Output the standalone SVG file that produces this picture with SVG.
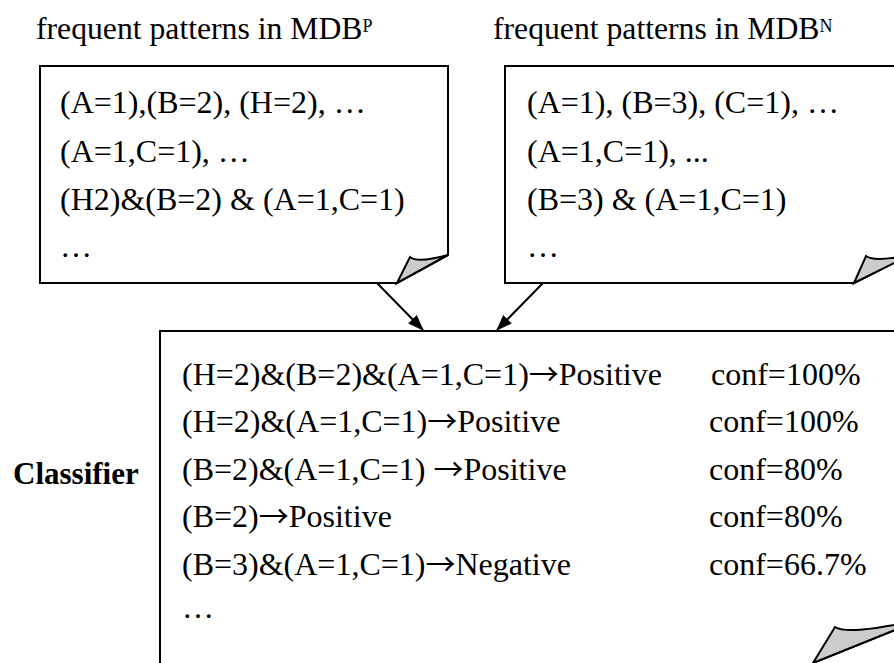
<svg xmlns="http://www.w3.org/2000/svg" width="894" height="663" viewBox="0 0 894 663">
<style>
text{font-family:"Liberation Serif","Times New Roman",Times,serif;font-size:32px;fill:#000}
.t{font-size:31.7px}
.sup{font-size:18px}
.b{font-weight:bold;font-size:31px}
.ar{font-family:"Noto Sans CJK SC","Noto Sans CJK JP",sans-serif;font-size:30px}
.box{fill:#fff;stroke:#000;stroke-width:2}
.curl{fill:#ccc;stroke:#000;stroke-width:2;stroke-linejoin:miter}
.conn{stroke:#000;stroke-width:2;fill:none}
</style>
<defs>
<marker id="ah" markerWidth="16" markerHeight="12" refX="15" refY="6" orient="auto" markerUnits="userSpaceOnUse" viewBox="0 0 16 12">
<path d="M0,0 L16,6 L0,12 Z" fill="#000"/>
</marker>
</defs>
<rect width="894" height="663" fill="#fff"/>

<g id="titles">
<text class="t" x="36" y="39">frequent patterns in MDB<tspan class="sup" dy="-7">P</tspan></text>
<text class="t" x="493" y="39">frequent patterns in MDB<tspan class="sup" dy="-7">N</tspan></text>
</g>

<g id="mdbp">
<path class="box" d="M40,66 H448 V255 L397,283 H40 Z"/>
<path class="curl" d="M397,283 L410,257 C416,262 430,260 448,255 Z"/>
<text x="60" y="113">(A=1),(B=2), (H=2), …</text>
<text x="60" y="162">(A=1,C=1), …</text>
<text x="60" y="210">(H2)&amp;(B=2) &amp; (A=1,C=1)</text>
<text x="60" y="257">…</text>
</g>

<g id="mdbn">
<path class="box" d="M505,66 H910 V255 L854,283 H505 Z"/>
<path class="curl" d="M854,283 L866,256 C872,261 890,259 910,255 Z"/>
<text x="527" y="113">(A=1), (B=3), (C=1), …</text>
<text x="527" y="162">(A=1,C=1), ...</text>
<text x="527" y="210">(B=3) &amp; (A=1,C=1)</text>
<text x="527" y="257">…</text>
</g>

<g id="classifier">
<text class="b" x="13" y="484">Classifier</text>
<path class="box" d="M160,331 H920 V620 L813,663 V680 H160 Z"/>
<path class="curl" d="M813,663 L835,627 C845,633 870,630 920,620 Z"/>
<text x="182" y="385">(H=2)&amp;(B=2)&amp;(A=1,C=1)<tspan class="ar">→</tspan>Positive</text>
<text x="711" y="385">conf=100%</text>
<text x="182" y="432">(H=2)&amp;(A=1,C=1)<tspan class="ar">→</tspan>Positive</text>
<text x="709" y="432">conf=100%</text>
<text x="182" y="480">(B=2)&amp;(A=1,C=1) <tspan class="ar">→</tspan>Positive</text>
<text x="709" y="480">conf=80%</text>
<text x="182" y="527">(B=2)<tspan class="ar">→</tspan>Positive</text>
<text x="709" y="527">conf=80%</text>
<text x="182" y="575">(B=3)&amp;(A=1,C=1)<tspan class="ar">→</tspan>Negative</text>
<text x="709" y="575">conf=66.7%</text>
<text x="182" y="618">…</text>
</g>

<g id="connectors">
<line class="conn" x1="377" y1="283" x2="423" y2="330" marker-end="url(#ah)"/>
<line class="conn" x1="543" y1="283" x2="497" y2="330" marker-end="url(#ah)"/>
</g>
</svg>
